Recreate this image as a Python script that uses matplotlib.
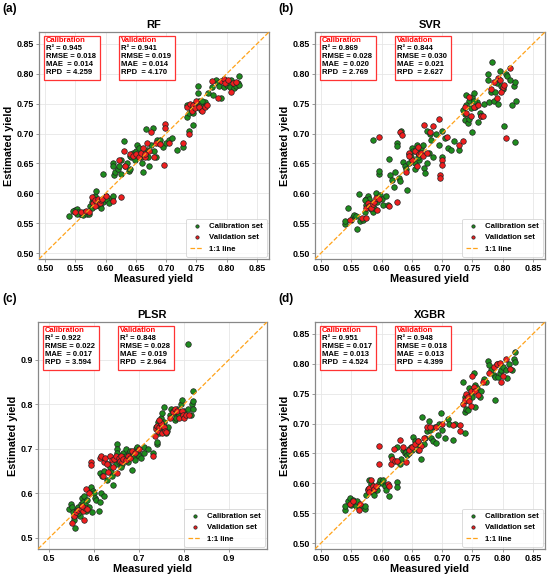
import numpy as np
import matplotlib
matplotlib.use('Agg')
import matplotlib.pyplot as plt
import matplotlib.patches as patches

plt.rcParams['font.family'] = ['Liberation Sans', 'DejaVu Sans']
plt.rcParams['font.weight'] = 'bold'

# measured / estimated yield
rf_cal = [(0.540, 0.562), (0.548, 0.570), (0.550, 0.572), (0.553, 0.573), (0.555, 0.568), (0.557, 0.566),
          (0.560, 0.565), (0.562, 0.563), (0.565, 0.568), (0.570, 0.566), (0.573, 0.565), (0.575, 0.578),
          (0.578, 0.585), (0.580, 0.590), (0.582, 0.596), (0.584, 0.603), (0.587, 0.583), (0.590, 0.578),
          (0.592, 0.575), (0.595, 0.585), (0.595, 0.633), (0.600, 0.595), (0.603, 0.588), (0.606, 0.584),
          (0.610, 0.592), (0.612, 0.595), (0.578, 0.575), (0.585, 0.580), (0.552, 0.566), (0.546, 0.571),
          (0.612, 0.650), (0.613, 0.645), (0.614, 0.630), (0.615, 0.636), (0.620, 0.640), (0.622, 0.645),
          (0.625, 0.632), (0.625, 0.655), (0.630, 0.688), (0.632, 0.645), (0.635, 0.650), (0.638, 0.637),
          (0.640, 0.640), (0.642, 0.660), (0.645, 0.667), (0.648, 0.655), (0.650, 0.670), (0.652, 0.680),
          (0.655, 0.675), (0.658, 0.660), (0.660, 0.650), (0.662, 0.636), (0.665, 0.665), (0.667, 0.708),
          (0.670, 0.660), (0.672, 0.645), (0.675, 0.680), (0.678, 0.710), (0.680, 0.670), (0.683, 0.660),
          (0.685, 0.690), (0.688, 0.685), (0.690, 0.690), (0.695, 0.678), (0.700, 0.685), (0.705, 0.690),
          (0.710, 0.693), (0.718, 0.672), (0.728, 0.677), (0.640, 0.662), (0.655, 0.662), (0.668, 0.672),
          (0.735, 0.728), (0.737, 0.735), (0.738, 0.705), (0.740, 0.745), (0.742, 0.740), (0.745, 0.715),
          (0.748, 0.750), (0.750, 0.745), (0.752, 0.780), (0.752, 0.768), (0.755, 0.755), (0.758, 0.740),
          (0.760, 0.750), (0.762, 0.748), (0.765, 0.752), (0.770, 0.768), (0.775, 0.778), (0.778, 0.765),
          (0.782, 0.790), (0.785, 0.785), (0.788, 0.780), (0.790, 0.760), (0.795, 0.778), (0.798, 0.788),
          (0.800, 0.782), (0.805, 0.778), (0.808, 0.790), (0.812, 0.776), (0.815, 0.780), (0.818, 0.785),
          (0.820, 0.796), (0.820, 0.782), (0.745, 0.735), (0.735, 0.748), (0.760, 0.755)]
rf_val = [(0.560, 0.568), (0.568, 0.570), (0.572, 0.568), (0.578, 0.593), (0.580, 0.583), (0.583, 0.588),
          (0.585, 0.582), (0.588, 0.590), (0.590, 0.584), (0.592, 0.588), (0.594, 0.590), (0.600, 0.595),
          (0.613, 0.587), (0.625, 0.594), (0.582, 0.578), (0.550, 0.569),
          (0.630, 0.671), (0.632, 0.645), (0.640, 0.665), (0.645, 0.662), (0.650, 0.665), (0.655, 0.660),
          (0.658, 0.667), (0.662, 0.675), (0.665, 0.660), (0.668, 0.685), (0.672, 0.670), (0.675, 0.702),
          (0.680, 0.660), (0.683, 0.685), (0.690, 0.683), (0.698, 0.716), (0.698, 0.710), (0.697, 0.648),
          (0.705, 0.685), (0.728, 0.685), (0.665, 0.666), (0.622, 0.655),
          (0.735, 0.745), (0.738, 0.700), (0.740, 0.750), (0.742, 0.738), (0.745, 0.748), (0.748, 0.742),
          (0.750, 0.755), (0.755, 0.745), (0.760, 0.738), (0.765, 0.745), (0.775, 0.788), (0.785, 0.760),
          (0.790, 0.788), (0.795, 0.792), (0.798, 0.785), (0.802, 0.790), (0.807, 0.770), (0.810, 0.785),
          (0.815, 0.787), (0.768, 0.748)]

svr_cal = [(0.540, 0.548), (0.540, 0.553), (0.545, 0.575), (0.550, 0.555), (0.553, 0.560), (0.555, 0.563),
           (0.558, 0.562), (0.560, 0.541), (0.562, 0.599), (0.565, 0.553), (0.570, 0.555), (0.573, 0.568),
           (0.575, 0.580), (0.575, 0.590), (0.578, 0.595), (0.580, 0.590), (0.582, 0.574), (0.585, 0.689),
           (0.585, 0.568), (0.588, 0.575), (0.590, 0.600), (0.592, 0.586), (0.595, 0.632), (0.595, 0.638),
           (0.598, 0.597), (0.600, 0.590), (0.603, 0.580), (0.608, 0.595), (0.610, 0.580), (0.612, 0.658),
           (0.614, 0.630), (0.618, 0.623), (0.620, 0.610), (0.622, 0.636), (0.625, 0.684), (0.625, 0.679),
           (0.628, 0.625), (0.630, 0.620), (0.572, 0.588),
           (0.632, 0.705), (0.635, 0.652), (0.638, 0.645), (0.640, 0.640), (0.642, 0.606), (0.645, 0.665),
           (0.648, 0.660), (0.650, 0.675), (0.652, 0.670), (0.655, 0.650), (0.655, 0.640), (0.658, 0.680),
           (0.660, 0.667), (0.662, 0.655), (0.665, 0.675), (0.668, 0.680), (0.670, 0.642), (0.672, 0.634),
           (0.675, 0.705), (0.675, 0.650), (0.678, 0.668), (0.680, 0.700), (0.682, 0.690), (0.685, 0.660),
           (0.690, 0.700), (0.695, 0.680), (0.700, 0.705), (0.705, 0.693), (0.710, 0.675), (0.715, 0.672),
           (0.720, 0.688), (0.728, 0.672), (0.645, 0.650), (0.660, 0.660), (0.700, 0.660),
           (0.735, 0.740), (0.737, 0.733), (0.738, 0.723), (0.740, 0.765), (0.742, 0.718), (0.745, 0.755),
           (0.745, 0.725), (0.748, 0.742), (0.750, 0.703), (0.750, 0.762), (0.752, 0.768), (0.755, 0.745),
           (0.758, 0.752), (0.760, 0.720), (0.762, 0.735), (0.765, 0.730), (0.770, 0.750), (0.775, 0.790),
           (0.775, 0.800), (0.778, 0.752), (0.780, 0.770), (0.782, 0.820), (0.785, 0.755), (0.788, 0.770),
           (0.790, 0.785), (0.792, 0.750), (0.795, 0.805), (0.798, 0.780), (0.800, 0.775), (0.802, 0.712),
           (0.805, 0.800), (0.808, 0.797), (0.812, 0.790), (0.815, 0.747), (0.818, 0.780), (0.820, 0.786),
           (0.820, 0.686), (0.822, 0.755), (0.740, 0.748), (0.753, 0.755)]
svr_val = [(0.548, 0.555), (0.568, 0.558), (0.575, 0.575), (0.578, 0.583), (0.580, 0.578), (0.583, 0.575),
           (0.585, 0.582), (0.588, 0.585), (0.590, 0.592), (0.592, 0.572), (0.596, 0.591), (0.612, 0.578),
           (0.625, 0.585), (0.595, 0.694), (0.631, 0.703), (0.633, 0.698), (0.575, 0.558),
           (0.640, 0.635), (0.645, 0.668), (0.650, 0.655), (0.655, 0.670), (0.660, 0.678), (0.662, 0.665),
           (0.665, 0.668), (0.668, 0.663), (0.670, 0.715), (0.675, 0.668), (0.680, 0.702), (0.685, 0.712),
           (0.695, 0.725), (0.697, 0.631), (0.697, 0.625), (0.700, 0.655), (0.700, 0.648), (0.708, 0.695),
           (0.728, 0.680), (0.735, 0.688), (0.658, 0.645), (0.645, 0.663),
           (0.740, 0.735), (0.745, 0.762), (0.748, 0.730), (0.752, 0.745), (0.760, 0.748), (0.765, 0.730),
           (0.768, 0.730), (0.780, 0.775), (0.785, 0.786), (0.790, 0.760), (0.792, 0.793), (0.795, 0.790),
           (0.798, 0.770), (0.800, 0.778), (0.802, 0.782), (0.806, 0.693), (0.812, 0.810), (0.738, 0.745)]

plsr_cal = [(0.545, 0.565), (0.548, 0.575), (0.550, 0.570), (0.552, 0.558), (0.555, 0.548), (0.556, 0.540),
            (0.558, 0.523), (0.560, 0.555), (0.562, 0.565), (0.565, 0.570), (0.568, 0.550), (0.570, 0.575),
            (0.572, 0.590), (0.575, 0.580), (0.578, 0.595), (0.580, 0.575), (0.582, 0.560), (0.585, 0.585),
            (0.588, 0.570), (0.590, 0.600), (0.592, 0.610), (0.594, 0.615), (0.595, 0.558), (0.598, 0.605),
            (0.600, 0.600), (0.603, 0.590), (0.605, 0.585), (0.610, 0.560), (0.612, 0.580), (0.615, 0.600),
            (0.622, 0.595), (0.575, 0.565), (0.565, 0.555),
            (0.612, 0.645), (0.618, 0.640), (0.622, 0.650), (0.628, 0.630), (0.630, 0.665), (0.635, 0.660),
            (0.638, 0.648), (0.640, 0.640), (0.642, 0.618), (0.645, 0.680), (0.648, 0.665), (0.650, 0.710),
            (0.650, 0.700), (0.652, 0.690), (0.655, 0.670), (0.658, 0.675), (0.660, 0.685), (0.662, 0.665),
            (0.665, 0.690), (0.668, 0.680), (0.670, 0.685), (0.672, 0.700), (0.675, 0.670), (0.678, 0.690),
            (0.680, 0.695), (0.685, 0.653), (0.688, 0.685), (0.690, 0.675), (0.693, 0.700), (0.695, 0.705),
            (0.698, 0.690), (0.700, 0.685), (0.705, 0.680), (0.710, 0.705), (0.712, 0.690), (0.720, 0.700),
            (0.730, 0.690), (0.660, 0.660),
            (0.738, 0.750), (0.740, 0.710), (0.740, 0.715), (0.742, 0.760), (0.745, 0.735), (0.748, 0.740),
            (0.750, 0.770), (0.752, 0.780), (0.755, 0.793), (0.755, 0.760), (0.758, 0.745), (0.760, 0.735),
            (0.762, 0.740), (0.765, 0.750), (0.770, 0.775), (0.772, 0.790), (0.775, 0.785), (0.778, 0.780),
            (0.780, 0.765), (0.782, 0.770), (0.785, 0.790), (0.788, 0.780), (0.790, 0.775), (0.793, 0.800),
            (0.795, 0.810), (0.798, 0.780), (0.800, 0.785), (0.808, 0.935), (0.810, 0.790), (0.815, 0.775),
            (0.818, 0.800), (0.820, 0.830), (0.820, 0.808), (0.820, 0.790), (0.750, 0.745)]
plsr_val = [(0.550, 0.533), (0.555, 0.550), (0.560, 0.558), (0.565, 0.562), (0.570, 0.565), (0.575, 0.560),
            (0.578, 0.540), (0.580, 0.568), (0.582, 0.610), (0.585, 0.565), (0.588, 0.600), (0.592, 0.670),
            (0.593, 0.663), (0.572, 0.572),
            (0.612, 0.680), (0.615, 0.683), (0.620, 0.640), (0.622, 0.670), (0.625, 0.680), (0.628, 0.665),
            (0.630, 0.648), (0.635, 0.685), (0.640, 0.676), (0.645, 0.678), (0.648, 0.685), (0.650, 0.645),
            (0.655, 0.680), (0.658, 0.672), (0.660, 0.685), (0.663, 0.670), (0.665, 0.678), (0.670, 0.676),
            (0.675, 0.685), (0.680, 0.680), (0.685, 0.695), (0.690, 0.690), (0.700, 0.700), (0.730, 0.685),
            (0.642, 0.660),
            (0.735, 0.730), (0.737, 0.745), (0.740, 0.752), (0.742, 0.740), (0.745, 0.750), (0.748, 0.755),
            (0.750, 0.758), (0.752, 0.735), (0.755, 0.750), (0.758, 0.740), (0.760, 0.738), (0.770, 0.770),
            (0.775, 0.783), (0.780, 0.790), (0.785, 0.785), (0.790, 0.770), (0.795, 0.785), (0.798, 0.775),
            (0.800, 0.770), (0.805, 0.775), (0.812, 0.775), (0.745, 0.765)]

xgbr_cal = [(0.540, 0.555), (0.540, 0.562), (0.545, 0.570), (0.547, 0.575), (0.550, 0.563), (0.552, 0.572),
            (0.555, 0.568), (0.558, 0.562), (0.560, 0.570), (0.565, 0.560), (0.570, 0.560), (0.572, 0.557),
            (0.575, 0.580), (0.578, 0.590), (0.580, 0.605), (0.582, 0.598), (0.585, 0.585), (0.588, 0.580),
            (0.590, 0.590), (0.593, 0.588), (0.595, 0.600), (0.598, 0.605), (0.600, 0.600), (0.602, 0.605),
            (0.605, 0.595), (0.608, 0.588), (0.612, 0.578), (0.625, 0.602), (0.625, 0.593), (0.573, 0.562),
            (0.615, 0.645), (0.625, 0.660), (0.630, 0.633), (0.632, 0.640), (0.635, 0.655), (0.638, 0.650),
            (0.640, 0.652), (0.642, 0.648), (0.645, 0.658), (0.648, 0.660), (0.650, 0.655), (0.652, 0.678),
            (0.655, 0.670), (0.658, 0.665), (0.660, 0.655), (0.662, 0.660), (0.665, 0.640), (0.667, 0.711),
            (0.670, 0.665), (0.672, 0.675), (0.675, 0.688), (0.678, 0.705), (0.680, 0.690), (0.682, 0.675),
            (0.685, 0.670), (0.688, 0.695), (0.690, 0.668), (0.693, 0.680), (0.695, 0.700), (0.698, 0.718),
            (0.700, 0.690), (0.705, 0.676), (0.710, 0.707), (0.712, 0.700), (0.718, 0.672), (0.645, 0.650),
            (0.660, 0.670),
            (0.735, 0.770), (0.737, 0.745), (0.738, 0.720), (0.740, 0.740), (0.740, 0.725), (0.742, 0.722),
            (0.745, 0.760), (0.748, 0.750), (0.750, 0.745), (0.752, 0.785), (0.755, 0.728), (0.755, 0.765),
            (0.758, 0.760), (0.762, 0.745), (0.765, 0.755), (0.770, 0.775), (0.772, 0.770), (0.775, 0.805),
            (0.778, 0.798), (0.780, 0.790), (0.785, 0.782), (0.788, 0.778), (0.788, 0.739), (0.790, 0.800),
            (0.792, 0.778), (0.795, 0.785), (0.798, 0.790), (0.800, 0.795), (0.805, 0.790), (0.808, 0.777),
            (0.810, 0.800), (0.815, 0.790), (0.818, 0.808), (0.820, 0.803), (0.820, 0.819), (0.738, 0.684),
            (0.722, 0.700)]
xgbr_val = [(0.548, 0.565), (0.552, 0.570), (0.562, 0.555), (0.565, 0.565), (0.578, 0.588), (0.580, 0.592),
            (0.582, 0.605), (0.585, 0.595), (0.588, 0.590), (0.590, 0.595), (0.595, 0.662), (0.595, 0.633),
            (0.610, 0.598), (0.612, 0.595), (0.580, 0.585),
            (0.615, 0.632), (0.618, 0.640), (0.620, 0.658), (0.622, 0.638), (0.625, 0.637), (0.630, 0.673),
            (0.635, 0.660), (0.640, 0.635), (0.645, 0.655), (0.650, 0.660), (0.655, 0.665), (0.660, 0.670),
            (0.665, 0.662), (0.670, 0.675), (0.675, 0.694), (0.680, 0.694), (0.690, 0.695), (0.700, 0.700),
            (0.718, 0.698), (0.730, 0.688), (0.662, 0.655),
            (0.730, 0.698), (0.735, 0.732), (0.738, 0.740), (0.740, 0.750), (0.743, 0.745), (0.745, 0.738),
            (0.748, 0.755), (0.750, 0.780), (0.752, 0.762), (0.755, 0.755), (0.760, 0.748), (0.768, 0.770),
            (0.778, 0.785), (0.785, 0.795), (0.790, 0.800), (0.795, 0.801), (0.798, 0.770), (0.800, 0.780),
            (0.805, 0.808), (0.812, 0.792), (0.748, 0.730)]

titles = ['RF', 'SVR', 'PLSR', 'XGBR']
panel_tags = ['(a)', '(b)', '(c)', '(d)']
cal_stats = [('0.945', '0.018', '0.014', '4.259'), ('0.869', '0.028', '0.020', '2.769'),
             ('0.922', '0.022', '0.017', '3.594'), ('0.951', '0.017', '0.013', '4.524')]
val_stats = [('0.941', '0.019', '0.014', '4.170'), ('0.844', '0.030', '0.021', '2.627'),
             ('0.848', '0.028', '0.019', '2.964'), ('0.948', '0.018', '0.013', '4.399')]
cal_sets = [rf_cal, svr_cal, plsr_cal, xgbr_cal]
val_sets = [rf_val, svr_val, plsr_val, xgbr_val]

ticks_std = [0.50, 0.55, 0.60, 0.65, 0.70, 0.75, 0.80, 0.85]
ticks_plsr = [0.5, 0.6, 0.7, 0.8, 0.9]

W, H = 550, 577
fig = plt.figure(figsize=(5.5, 5.77), dpi=100)

# axes boxes in pixels: left, top, right, bottom
boxes = [(39, 32, 269, 259), (315, 32, 545, 259), (38, 322, 267, 549), (315, 322, 545, 549)]
tag_pos = [(2, 3), (278, 3), (2, 293), (278, 293)]

for i in range(4):
    l, t, r, b = boxes[i]
    ax = fig.add_axes([l / W, 1 - b / H, (r - l) / W, (b - t) / H])
    if i == 2:
        lims = (0.475, 0.985)
        ticks = ticks_plsr
        fmt = '%.1f'
    else:
        lims = (0.49, 0.87)
        ticks = ticks_std
        fmt = '%.2f'

    cal = np.array(cal_sets[i])
    val = np.array(val_sets[i])
    ax.grid(True, color='#e6e6e6', linewidth=0.6, zorder=0)
    ax.scatter(cal[:, 0], cal[:, 1], s=16, c='#1e8c1e', edgecolors='#222222', linewidths=0.5,
               label='Calibration set', zorder=3)
    ax.scatter(val[:, 0], val[:, 1], s=16, c='#f01e1e', edgecolors='#222222', linewidths=0.5,
               label='Validation set', zorder=4)
    ax.plot(lims, lims, '--', color='#ffa31a', linewidth=0.9, label='1:1 line', zorder=5)

    ax.set_xlim(lims)
    ax.set_ylim(lims)
    ax.set_xticks(ticks)
    ax.set_yticks(ticks)
    ax.set_xticklabels([fmt % v for v in ticks])
    ax.set_yticklabels([fmt % v for v in ticks])
    ax.tick_params(labelsize=6.4, length=2, width=0.6, pad=1.5, color='#888888')
    for sp in ax.spines.values():
        sp.set_color('#888888')
        sp.set_linewidth(0.9)

    ax.set_title(titles[i], fontsize=8, fontweight='bold', pad=3)
    ax.set_xlabel('Measured yield', fontsize=7.8, fontweight='bold', labelpad=1)
    ax.set_ylabel('Estimated yield', fontsize=7.8, fontweight='bold', labelpad=2)

    # stats boxes: red frame, red header, black lines below
    for bx, name, st in [(0.022, 'Calibration', cal_stats[i]), (0.349, 'Validation', val_stats[i])]:
        rect = patches.Rectangle((bx, 0.787), 0.243, 0.195, transform=ax.transAxes,
                                 facecolor='white', edgecolor='#ff3333', linewidth=0.9, zorder=6)
        ax.add_patch(rect)
        ax.text(bx + 0.008, 0.978, name, transform=ax.transAxes, ha='left', va='top',
                fontsize=5.5, fontweight='bold', color='red', zorder=7)
        body = 'R² = %s\nRMSE = %s\nMAE  = %s\nRPD  = %s' % st
        ax.text(bx + 0.008, 0.941, body, transform=ax.transAxes, ha='left', va='top',
                fontsize=5.5, fontweight='bold', color='black', zorder=7)

    leg = ax.legend(loc='lower right', fontsize=5.6, markerscale=0.6, frameon=True,
                    borderpad=0.5, handlelength=1.6, labelspacing=0.5, borderaxespad=0.3)
    leg.get_frame().set_linewidth(0.6)
    for txt in leg.get_texts():
        txt.set_fontweight('bold')

    tx, ty = tag_pos[i]
    fig.text(tx / W, 1 - ty / H, panel_tags[i], ha='left', va='top', fontsize=8.5, fontweight='bold')

fig.savefig('out.png', dpi=100)
